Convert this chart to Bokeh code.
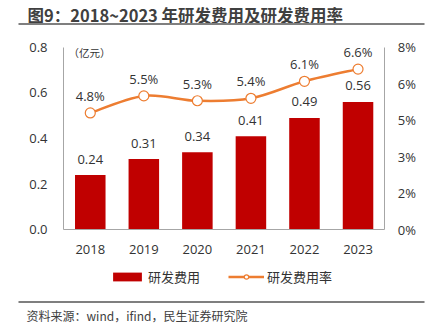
from bokeh.plotting import figure
from bokeh.models import (Range1d, LinearAxis, FixedTicker, NumeralTickFormatter,
                          Legend, LegendItem, Label, BoxAnnotation, ColumnDataSource)
from bokeh.core.properties import value
from bokeh.embed import file_html
from bokeh.resources import INLINE

# ---- data ----
years = ["2018", "2019", "2020", "2021", "2022", "2023"]
rd_expense = [0.24, 0.31, 0.34, 0.41, 0.49, 0.56]          # 亿元
rd_ratio = [4.8, 5.5, 5.3, 5.4, 6.1, 6.6]                  # %
left_ticks = [0.0, 0.2, 0.4, 0.6, 0.8]
pct_ticks = [0, 1.5, 3, 4.5, 6, 7.5]
pct_tick_labels = ["0%", "2%", "3%", "5%", "6%", "8%"]
title_text = "图9：2018~2023 年研发费用及研发费用率"
source_text = "资料来源：wind，ifind，民生证券研究院"
unit_text = "（亿元）"
legend_bar = "研发费用"
legend_line = "研发费用率"

RED = "#C00000"
ORANGE = "#ED7D31"
AXIS = "#A6A6A6"
TXT = "#333333"
RULE = "#7F7F7F"
NUMFONT = "Open Sans"
CJK = "Noto Sans CJK SC"

W, H = 432, 330
# plot-area placement on the canvas (pixels)
PL, PR, PT, PB = 63.0, 384.3, 46.7, 229.3
LMAX, RMAX = 0.8, 7.5
ncat = len(years)

sx = (PR - PL) / ncat
sy = (PB - PT) / LMAX
x_rng = Range1d(-PL / sx, ncat + (W - PR) / sx)
y_lo, y_hi = -(H - PB) / sy, LMAX + PT / sy
y_rng = Range1d(y_lo, y_hi)
k = RMAX / LMAX

p = figure(width=W, height=H, output_backend="svg", toolbar_location=None,
           x_range=x_rng, y_range=y_rng,
           min_border_left=0, min_border_right=0, min_border_top=0,
           min_border_bottom=0)
p.outline_line_color = None
p.xgrid.visible = False
p.ygrid.visible = False
p.extra_y_ranges = {"pct": Range1d(y_lo * k, y_hi * k)}

xs = [i + 0.5 for i in range(ncat)]

src = ColumnDataSource(dict(x=xs, v=rd_expense, lab=[f"{v:.2f}" for v in rd_expense]))
bars = p.vbar(x="x", top="v", bottom=0, width=0.57, source=src, fill_color=RED,
              line_color=None)
p.text(x="x", y="v", text="lab", source=src, text_align="center", text_baseline="middle",
       y_offset=-16, text_font=value(NUMFONT), text_font_size="13px", text_color=TXT)

# smoothed line (bezier segments through the data points)
n = len(xs)
x0, y0, x1, y1, cx0, cy0, cx1, cy1 = [], [], [], [], [], [], [], []
for i in range(n - 1):
    pm = i - 1 if i > 0 else i
    pp = i + 2 if i + 2 < n else i + 1
    x0.append(xs[i]); y0.append(rd_ratio[i])
    x1.append(xs[i + 1]); y1.append(rd_ratio[i + 1])
    cx0.append(xs[i] + (xs[i + 1] - xs[pm]) / 6)
    cy0.append(rd_ratio[i] + (rd_ratio[i + 1] - rd_ratio[pm]) / 6)
    cx1.append(xs[i + 1] - (xs[pp] - xs[i]) / 6)
    cy1.append(rd_ratio[i + 1] - (rd_ratio[pp] - rd_ratio[i]) / 6)
curve = p.bezier(x0=x0, y0=y0, x1=x1, y1=y1, cx0=cx0, cy0=cy0, cx1=cx1, cy1=cy1,
                 line_color=ORANGE, line_width=2.5, y_range_name="pct")
lsrc = ColumnDataSource(dict(x=xs, v=rd_ratio, lab=[f"{v:.1f}%" for v in rd_ratio]))
pts = p.scatter(x="x", y="v", source=lsrc, size=10, marker="circle", fill_color="white",
                line_color=ORANGE, line_width=1.2, y_range_name="pct")
p.text(x="x", y="v", text="lab", source=lsrc, text_align="center", text_baseline="middle",
       y_offset=-17, text_font=value(NUMFONT), text_font_size="13px", text_color=TXT,
       y_range_name="pct")

# axes drawn at fixed data locations
xa = p.xaxis[0]
xa.fixed_location = 0
xa.bounds = (0, ncat)
xa.ticker = FixedTicker(ticks=xs)
xa.major_label_overrides = {x: y for x, y in zip(xs, years)}
ya = p.yaxis[0]
ya.fixed_location = 0
ya.bounds = (0, LMAX)
ya.ticker = FixedTicker(ticks=left_ticks)
ya.formatter = NumeralTickFormatter(format="0.0")
right = LinearAxis(y_range_name="pct", ticker=FixedTicker(ticks=pct_ticks),
                   fixed_location=ncat, bounds=(0, RMAX),
                   major_label_overrides={t: l for t, l in zip(pct_ticks, pct_tick_labels)})
p.add_layout(right, "right")
for ax in [xa, ya, right]:
    ax.axis_line_color = AXIS
    ax.axis_line_width = 1
    ax.major_tick_line_color = None
    ax.minor_tick_line_color = None
    ax.major_tick_out = 0
    ax.major_tick_in = 0
    ax.major_label_text_font = NUMFONT
    ax.major_label_text_font_size = "13px"
    ax.major_label_text_color = TXT
ya.major_label_standoff = 16
right.major_label_standoff = 13
xa.major_label_standoff = 15

legend = Legend(items=[LegendItem(label=legend_bar, renderers=[bars]),
                       LegendItem(label=legend_line, renderers=[curve, pts])],
                orientation="horizontal", location=(109, 44), padding=0, margin=0,
                spacing=28, glyph_width=36, glyph_height=11, label_standoff=3,
                label_text_font=CJK, label_text_font_size="13px", label_text_color=TXT,
                border_line_color=None, background_fill_alpha=0)
p.add_layout(legend, "center")

p.add_layout(Label(x=68, y=H - 52, x_units="screen", y_units="screen", text=unit_text,
                   text_font=CJK, text_font_size="10.5px", text_color=TXT,
                   text_baseline="middle"))

# title and rules
p.add_layout(Label(x=27, y=H - 14, x_units="screen", y_units="screen", text=title_text,
                   text_font=CJK, text_font_size="16.5px", text_font_style="bold",
                   text_color="#404040", text_baseline="middle"))
p.add_layout(BoxAnnotation(left=18, right=424, top=H - 22.5, bottom=H - 24.5,
                           left_units="screen", right_units="screen",
                           top_units="screen", bottom_units="screen",
                           fill_color=RULE, fill_alpha=1, line_color=None))
p.add_layout(BoxAnnotation(left=18, right=424, top=H - 300.5, bottom=H - 302.5,
                           left_units="screen", right_units="screen",
                           top_units="screen", bottom_units="screen",
                           fill_color=RULE, fill_alpha=1, line_color=None))
p.add_layout(Label(x=26, y=H - 315, x_units="screen", y_units="screen", text=source_text,
                   text_font=CJK, text_font_size="12px", text_color="#404040",
                   text_baseline="middle"))

open("out.html", "w").write(file_html(p, INLINE))
